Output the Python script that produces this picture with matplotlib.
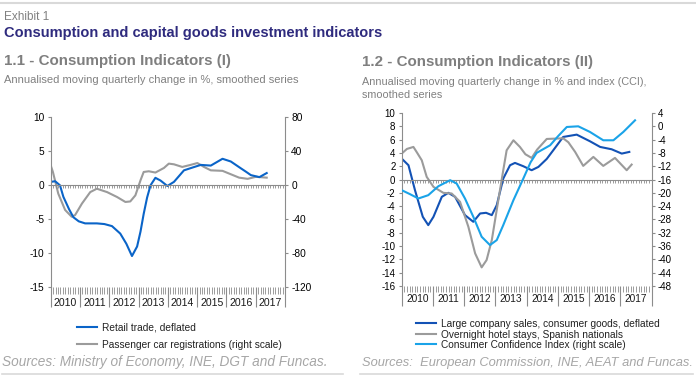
import matplotlib.pyplot as plt
from matplotlib.lines import Line2D
from matplotlib.ticker import MultipleLocator

plt.rcParams['font.family'] = ['Liberation Sans', 'DejaVu Sans']
plt.rcParams['axes.unicode_minus'] = False

years = ['2010', '2011', '2012', '2013', '2014', '2015', '2016', '2017']

# 1.1 - x is months since Jan 2010
retail_m = [0, 1.8, 3.8, 5.2, 7.5, 9.3, 11.5, 14.1, 18.9, 22, 25.1, 28.5, 31, 33.3, 35.4,
            36.8, 38.1, 39.5, 40.9, 42.9, 45, 47.8, 50.5, 54.6, 58, 61.5, 65.6, 68, 70.4,
            73.8, 77.9, 80, 82, 85.5, 88.5]
retail_v = [0.5, 0.6, 0.0, -1.7, -3.5, -4.7, -5.3, -5.6, -5.6, -5.7, -6.0, -7.1, -8.6, -10.4, -9.0,
            -6.8, -4.2, -1.8, 0.0, 1.1, 0.7, -0.1, 0.5, 2.2, 2.6, 3.0, 2.9, 3.4, 3.9,
            3.5, 2.5, 2.0, 1.5, 1.2, 1.8]
cars_m = [0, 0.9, 3.1, 5.9, 8.6, 10.0, 12.8, 16.2, 18.9, 23.1, 27.2, 30.6, 32.6, 34.7, 36.8,
          38.1, 40.2, 42.9, 46.4, 48.4, 50.5, 53.9, 57.3, 60.1, 62.8, 65.6, 70.4, 73.8, 77.2,
          80.7, 84.1, 88.5]
cars_v = [23.5, 15.7, -9.8, -29, -37, -35, -21.5, -8, -4, -8, -13.8, -19.6, -19, -11.8, 5.9,
          15.7, 16.5, 15, 20.4, 25.5, 24.7, 21.6, 24, 26.2, 21.6, 17.6, 17, 13, 9,
          7.6, 10, 9]

# 1.2
sales_m = [0, 2.6, 5.1, 8.1, 10.2, 12.2, 15.4, 17.9, 20.5, 24.3, 27.5, 30.1, 32.4, 34.6, 36.5,
           39, 41.6, 43.5, 46.7, 49.9, 52.5, 55.7, 58.2, 62, 67.2, 72.3, 76.2, 80.6, 84.5, 87.4]
sales_v = [3.15, 2.15, -1.6, -5.6, -6.85, -5.6, -2.6, -2.0, -2.6, -5.35, -6.35, -5.1, -5.0, -5.35, -3.85,
           0.15, 2.15, 2.5, 2.0, 1.4, 1.9, 3.1, 4.4, 6.4, 6.75, 5.75, 4.9, 4.55, 3.9, 4.15]
hotel_m = [0, 2, 4.5, 5.8, 7.7, 9.6, 12.2, 16, 19.2, 22.4, 25.6, 28.2, 30.7, 32.6, 34.6,
           37.1, 39, 40.3, 42.9, 45.4, 47.5, 49.9, 52, 55.7, 62, 64, 66.6, 69.7, 73.6, 77.4,
           81.9, 86.4, 88.3]
hotel_v = [3.9, 4.6, 4.9, 4.1, 2.9, 0.4, -1.1, -2.0, -2.1, -3.35, -7.1, -11.1, -13.2, -12.1, -9.1,
           -3.1, 1.4, 4.4, 5.9, 4.9, 3.8, 3.25, 4.5, 6.1, 6.2, 5.6, 4.15, 2.05, 3.4, 2.05,
           3.25, 1.4, 2.25]
cci_m = [0, 3.2, 6.4, 10.2, 14.1, 18.6, 21.1, 24.3, 27.5, 30.7, 33.9, 36.5, 39, 42.9, 46.7,
         49.5, 51.8, 54.5, 57, 60, 63.4, 67.8, 72.3, 77.4, 81.3, 85.1, 89.6]
cci_v = [-19.2, -20.4, -21.7, -20.7, -18.0, -16.2, -17.2, -21.7, -27.2, -33.2, -35.7, -34.2, -29.7, -22.2, -15.7,
         -10.8, -8.0, -6.8, -5.7, -3.0, -0.2, 0.0, -1.7, -4.2, -4.2, -1.7, 1.8]

W, H = 696, 377
fig = plt.figure(figsize=(W / 100, H / 100), dpi=100)


def box(x0, y0, x1, y1):
    return [x0 / W, 1 - y1 / H, (x1 - x0) / W, (y1 - y0) / H]


axis_col = '#8c8c8c'
blue = '#0a64c8'
dark_blue = '#1352b5'
light_blue = '#1aa3e8'
grey = '#9b9b9b'


def style(ax, ax2, label_off, minor_len, fs):
    ax.set_xlim(0, 96)
    for s in ['top', 'right']:
        ax.spines[s].set_visible(False)
    ax.spines['bottom'].set_position(('data', 0))
    for s in ['bottom', 'left']:
        ax.spines[s].set_color(axis_col)
        ax.spines[s].set_linewidth(0.8)
    ax.xaxis.set_major_locator(MultipleLocator(12))
    ax.xaxis.set_minor_locator(MultipleLocator(1))
    ax.tick_params(axis='x', which='both', length=2.2, width=0.6, color=axis_col, labelbottom=False)
    ax.tick_params(axis='y', length=2.5, width=0.8, color=axis_col, labelsize=fs, pad=2)
    for s in ['top', 'bottom', 'left']:
        ax2.spines[s].set_visible(False)
    ax2.spines['right'].set_color(axis_col)
    ax2.spines['right'].set_linewidth(0.8)
    ax2.tick_params(axis='y', length=2.5, width=0.8, color=axis_col, labelsize=fs, pad=2)
    sec = ax.secondary_xaxis(0.0)
    sec.spines['bottom'].set_visible(False)
    sec.xaxis.set_major_locator(MultipleLocator(12))
    sec.xaxis.set_minor_locator(MultipleLocator(1))
    sec.tick_params(which='major', length=14.4, width=0.8, color=axis_col, labelbottom=False)
    sec.tick_params(which='minor', length=minor_len, width=0.6, color=axis_col)
    for i, y in enumerate(years):
        ax.annotate(y, xy=(12 * i + 6, 0), xycoords=('data', 'axes fraction'),
                    xytext=(0, -label_off), textcoords='offset points',
                    ha='center', va='center', fontsize=fs + 0.3, color='#1a1a1a')


# 1.1
ax = fig.add_axes(box(50.7, 117.3, 285, 287.3))
ax2 = ax.twinx()
ax.set_zorder(ax2.get_zorder() + 1)
ax.patch.set_visible(False)
l2, = ax2.plot(cars_m, cars_v, color=grey, lw=1.5)
l1, = ax.plot(retail_m, retail_v, color=blue, lw=1.5)
ax.set_ylim(-15, 10)
ax.set_yticks([10, 5, 0, -5, -10, -15])
ax2.set_ylim(-120, 80)
ax2.set_yticks([80, 40, 0, -40, -80, -120])
style(ax, ax2, 11.5, 4.8, 7.3)
fig.legend([l1, l2], ['Retail trade, deflated', 'Passenger car registrations (right scale)'],
           loc='upper left', bbox_to_anchor=(77 / W, 1 - 323 / H), frameon=False, fontsize=7.3,
           handlelength=2.0, handletextpad=0.5, labelspacing=0.65, borderpad=0, borderaxespad=0,
           labelcolor='#222222')

# 1.2
bx = fig.add_axes(box(401.7, 113, 651.7, 286))
bx2 = bx.twinx()
m1, = bx.plot(sales_m, sales_v, color=dark_blue, lw=1.5)
m2, = bx.plot(hotel_m, hotel_v, color=grey, lw=1.5)
m3, = bx2.plot(cci_m, cci_v, color=light_blue, lw=1.5)
bx.set_ylim(-16, 10)
bx.set_yticks(range(-16, 11, 2))
bx2.set_ylim(-48, 4)
bx2.set_yticks(range(-48, 5, 4))
style(bx, bx2, 9.5, 4.3, 7)
fig.legend([m1, m2, m3], ['Large company sales, consumer goods, deflated',
                          'Overnight hotel stays, Spanish nationals',
                          'Consumer Confidence Index (right scale)'],
           loc='upper left', bbox_to_anchor=(416 / W, 1 - 319 / H), frameon=False, fontsize=7.3,
           handlelength=2.0, handletextpad=0.5, labelspacing=0.05, borderpad=0, borderaxespad=0,
           labelcolor='#222222')

# texts
fig.text(4 / W, 1 - 20 / H, 'Exhibit 1', fontsize=8.5, color='#808080', va='baseline')
fig.text(4 / W, 1 - 36.7 / H, 'Consumption and capital goods investment indicators',
         fontsize=10.5, fontweight='bold', color='#2f2b7e', va='baseline')
fig.text(4 / W, 1 - 65 / H, '1.1 - Consumption Indicators (I)', fontsize=10.9,
         fontweight='bold', color='#7f7f7f', va='baseline')
fig.text(4 / W, 1 - 83.3 / H, 'Annualised moving quarterly change in %, smoothed series',
         fontsize=8.0, color='#808080', va='baseline')
fig.text(361.7 / W, 1 - 66 / H, '1.2 - Consumption Indicators (II)', fontsize=10.9,
         fontweight='bold', color='#7f7f7f', va='baseline')
fig.text(361.7 / W, 1 - 85 / H, 'Annualised moving quarterly change in % and index (CCI),',
         fontsize=7.8, color='#808080', va='baseline')
fig.text(361.7 / W, 1 - 98.3 / H, 'smoothed series', fontsize=7.8, color='#808080', va='baseline')
fig.text(2 / W, 1 - 365.7 / H, 'Sources: Ministry of Economy, INE, DGT and Funcas.',
         fontsize=9.8, style='italic', color='#a6a6a6', va='baseline')
fig.text(361.7 / W, 1 - 365.7 / H, 'Sources:  European Commission, INE, AEAT and Funcas.',
         fontsize=9.3, style='italic', color='#a6a6a6', va='baseline')

# separator lines
fig.add_artist(Line2D([0, 1], [1 - 2.5 / H] * 2, color='#d9d9d9', lw=1.5))
fig.add_artist(Line2D([2 / W, 343 / W], [1 - 374.3 / H] * 2, color='#d9d9d9', lw=1.2))
fig.add_artist(Line2D([360 / W, 693 / W], [1 - 374.3 / H] * 2, color='#d9d9d9', lw=1.2))

fig.savefig('out.png', dpi=100)
